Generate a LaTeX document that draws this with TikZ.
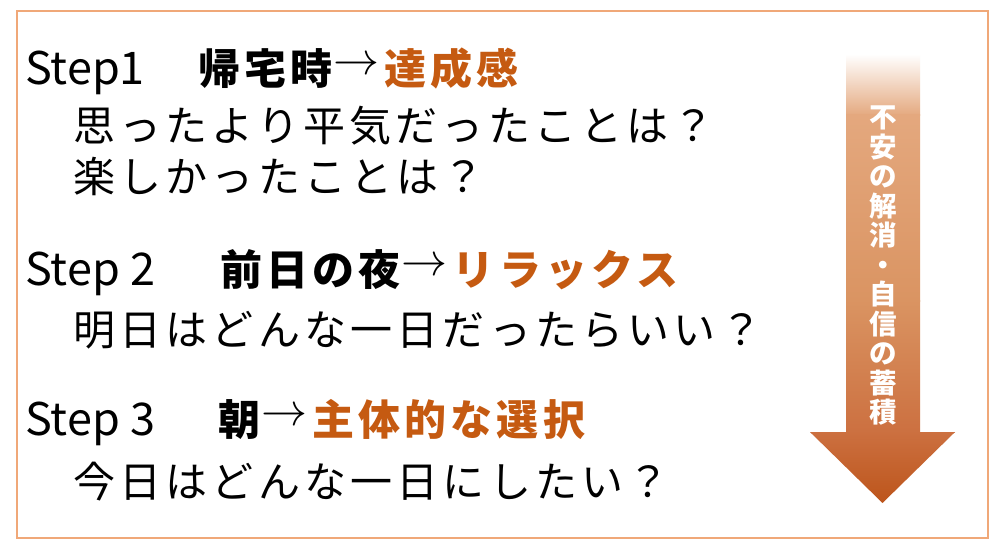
\documentclass[tikz,border=0pt]{standalone}
\usepackage{fontspec}
\newfontfamily\jp[LetterSpace=10]{Noto Sans CJK JP}
\newfontfamily\jpn{Noto Sans CJK JP}
\definecolor{accent}{HTML}{C55A11}
\definecolor{framec}{HTML}{F0A878}
\definecolor{ga}{HTML}{E4A87E}
\definecolor{gb}{HTML}{DA9462}
\definecolor{gc}{HTML}{CC7040}
\definecolor{gd}{HTML}{BC541A}
\newcommand\myarr{\hspace{1pt}\raisebox{10pt}{\scalebox{4.6}{\fontsize{10}{12}\selectfont$\rightarrow$}}\hspace{5pt}}
\begin{document}
\begin{tikzpicture}[x=1pt,y=-1pt,
  stepnum/.style={anchor=base west, inner sep=0pt, font=\jpn\fontsize{45}{54}\selectfont},
  head/.style={anchor=base west, inner sep=0pt, font=\jp\bfseries\fontsize{42}{50}\selectfont},
  body/.style={anchor=base west, inner sep=0pt, font=\jp\fontsize{42}{50}\selectfont},
  vtext/.style={align=center, inner sep=0pt, text=white, font=\jpn\bfseries\fontsize{27.5}{29.5}\selectfont}]
\useasboundingbox (0,0) rectangle (1000,548);
\fill[white] (0,0) rectangle (1000,548);
\draw[framec, line width=1.3pt] (17,11) rectangle (988,538);
% arrow
\begin{scope}
\clip (846,55) -- (920,55) -- (920,432) -- (955,432) -- (882.5,503) -- (810,432) -- (846,432) -- cycle;
\shade[top color=white, bottom color=ga] (800,54) rectangle (960,116);
\shade[top color=ga, bottom color=gb] (800,115) rectangle (960,301);
\shade[top color=gb, bottom color=gc] (800,300) rectangle (960,433);
\shade[top color=gc, bottom color=gd] (800,432) rectangle (960,505);
\end{scope}
\node[vtext] (arrowtext) at (883,266) {不\\安\\の\\解\\消\\・\\自\\信\\の\\蓄\\積};
% texts
\node[stepnum] (s1) at (25,85) {Step1};
\node[head] (h1) at (198,85) {帰宅時\myarr{\color{accent}達成感}};
\node[body] (b1a) at (73,142) {思ったより平気だったことは？};
\node[body] (b1b) at (73,192) {楽しかったことは？};
\node[stepnum] (s2) at (25,285) {Step 2};
\node[head] (h2) at (220,285) {前日の夜\myarr{\color{accent}リラックス}};
\node[body] (b2) at (73,345) {明日はどんな一日だったらいい？};
\node[stepnum] (s3) at (25,435) {Step 3};
\node[head] (h3) at (218,435) {朝\myarr{\color{accent}主体的な選択}};
\node[body] (b3) at (73,497) {今日はどんな一日にしたい？};
\end{tikzpicture}
\end{document}
